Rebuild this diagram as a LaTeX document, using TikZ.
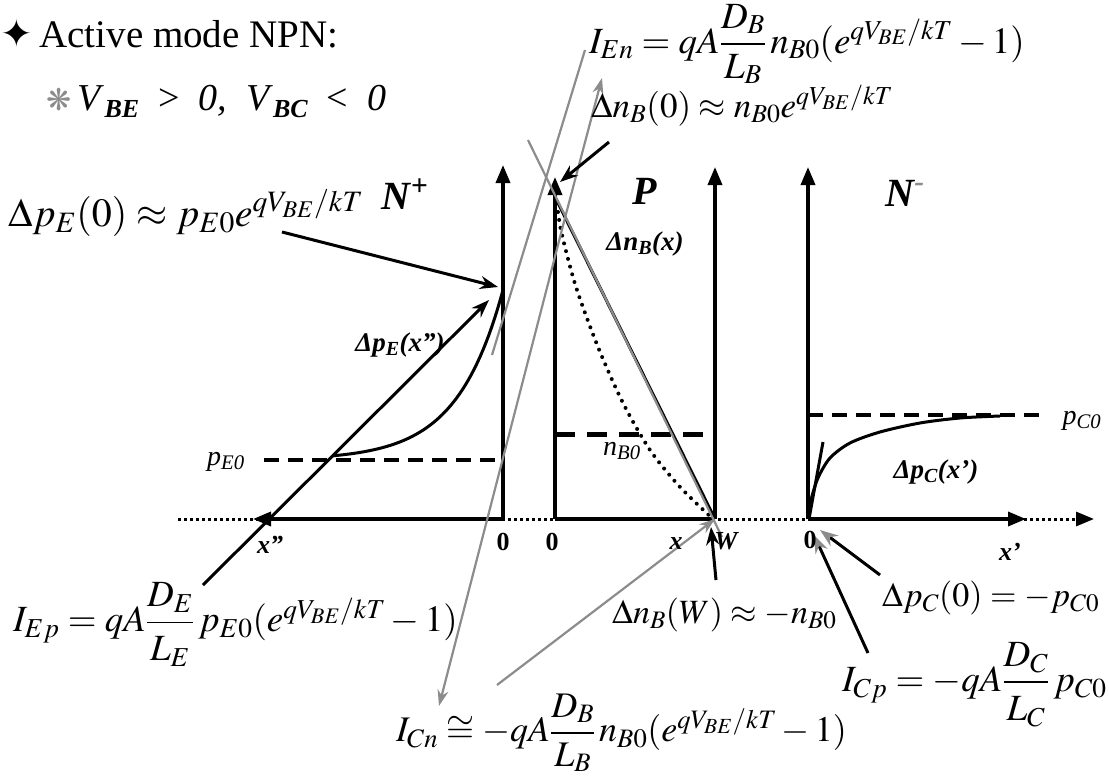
\documentclass[tikz,border=0pt]{standalone}
\usepackage{amsmath}
\usepackage{mathptmx}
\usepackage{fontspec}
\setmainfont{Liberation Serif}
\newfontfamily\symfont{DejaVu Sans}
\usetikzlibrary{arrows.meta}
\newcommand\fsz[1]{\fontsize{#1}{#1}\selectfont}
\newcommand\tallfrac[2]{\dfrac{\rule[-0.12em]{0pt}{0.8em}#1}{\rule{0pt}{0.9em}#2}}
\newcommand\sub[1]{\raisebox{-7pt}{\fsz{26}\bfseries\itshape #1}}

\begin{document}
\begin{tikzpicture}[x=1pt,y=-1pt,
    >={Triangle[length=18pt,width=14pt]},
    axis/.style={line width=3.5pt},
    guide/.style={line width=3pt, dash pattern=on 3pt off 3pt},
    lvl/.style={line width=4pt, dash pattern=on 15pt off 9pt},
    ptr/.style={line width=3pt, -{Stealth[length=18pt,width=13pt]}},
    gptr/.style={black!45, line width=2.2pt, -{Stealth[length=16pt,width=11pt]}},
    gline/.style={black!45, line width=2.2pt},
    reg/.style={font=\fsz{40}\bfseries\itshape},
    lbl/.style={font=\fsz{27}\bfseries\itshape},
    num/.style={font=\fsz{26}\bfseries},
    eq/.style={anchor=west, inner sep=0pt},
  ]
  \useasboundingbox (0,0) rectangle (1109,779);

  % axes of the three regions
  \coordinate (o1) at (503,519);
  \coordinate (o2) at (555,519);
  \coordinate (w) at (715,519);
  \coordinate (o3) at (808,519);
  \draw[guide,->] (178,519) -- (1094,519);
  \draw[axis,->] (o1) -- (253,519);
  \draw[axis] (o2) -- (w);
  \draw[axis,->] (o3) -- (1026,519);
  \draw[axis,->] (o1) -- (503,165);
  \draw[axis,->] (o2) -- (555,177);
  \draw[axis,->] (w) -- (715,167);
  \draw[axis,->] (o3) -- (808,167);

  % equilibrium levels
  \draw[lvl] (264,460) -- (501,460);
  \draw[lvl, line width=5pt, dash pattern=on 20pt off 12pt] (555,434) -- (715,434);
  \draw[lvl] (808,415) -- (1044,415);

  % excess carriers
  \draw[line width=3pt] plot[domain=0:170, samples=60] ({503-\x},{460-170*exp(-\x/46)});
  \coordinate (nbtop) at (555,197);
  \draw[line width=3pt] (nbtop) -- (w);
  \draw[line width=4pt, line cap=round, dash pattern=on 0pt off 8pt]
    plot[smooth] coordinates {(558,212) (562,235) (576,287) (598,347) (623,403) (650,450) (680,487) (713,519)};
  \draw[line width=3pt] plot[smooth] coordinates {(808,519) (811,500) (818,478) (830,458) (850,443) (880,432) (920,423) (960,418) (1000,416)};
  \draw[line width=3pt] (809,519) -- (823,442);

  % slopes (grey)
  \coordinate (gx) at (566,214);
  \coordinate (ientip) at (602,78);
  \coordinate (icntip) at (439,706);
  \coordinate (ga1) at (585,50);
  \coordinate (ga2) at (492,355);
  \coordinate (gc1) at (528,140);
  \coordinate (gc2) at (722,537);
  \coordinate (gw) at (497,685);
  \draw[gptr] (gx) -- (ientip);
  \draw[gptr] (gx) -- (icntip);
  \draw[gline] (ga1) -- (ga2);
  \draw[gline] (gc1) -- (gc2);
  \draw[gptr] (gw) -- (w);

  % pointers
  \coordinate (pe0a) at (282,232);  \coordinate (pe0b) at (498,287);
  \coordinate (iepa) at (203,585);  \coordinate (iepb) at (489,300);
  \coordinate (nb0a) at (609,142);  \coordinate (nb0b) at (560,182);
  \coordinate (nbwa) at (716,580);  \coordinate (nbwb) at (711,527);
  \coordinate (pc0a) at (880,575);  \coordinate (pc0b) at (820,530);
  \coordinate (icpa) at (868,653);  \coordinate (icpb) at (814,535);
  \draw[ptr] (pe0a) -- (pe0b);
  \draw[ptr] (iepa) -- (iepb);
  \draw[ptr] (nb0a) -- (nb0b);
  \draw[ptr] (nbwa) -- (nbwb);
  \draw[ptr, -{Stealth[length=18pt,width=13pt,color=black!45]}] (pc0a) -- (pc0b);
  \draw[ptr, -{Stealth[length=18pt,width=13pt,color=black!45]}] (icpa) -- (icpb);

  % headings
  \node[anchor=base west, inner sep=0pt, font=\fsz{39}] (title) at (0,47) {{\symfont ✦}\,Active mode NPN:};
  \node[anchor=base west, inner sep=0pt, font=\fsz{38}] (bias) at (46,110)
    {{\color{black!45}\symfont\fsz{30}❋}\,\textit{V}\sub{BE}\ \ >\ \ \textit{0,}\ \ \textit{V}\sub{BC}\ \ <\ \ \textit{0}};
  \node[reg] (nplus) at (405,194) {N\textsuperscript{+}};
  \node[reg] (pbase) at (645,191) {P};
  \node[reg] (nminus) at (905,193) {N\textsuperscript{\color{black!45}-}};

  % curve labels
  \node[lbl] (dpex) at (400,345) {Δp\textsubscript{E}(x”)};
  \node[lbl] (dnbx) at (645,244) {Δn\textsubscript{B}(x)};
  \node[lbl] (dpcx) at (936,472) {Δp\textsubscript{C}(x’)};
  \node[font=\fsz{28}\itshape] (pe0) at (226,462) {p\textsubscript{E0}};
  \node[font=\fsz{28}\itshape] (nb0) at (622,451) {n\textsubscript{B0}};
  \node[font=\fsz{28}\itshape] (pc0) at (1082,421) {p\textsubscript{C0}};

  % axis marks
  \node[num] (z1) at (503,542) {0};
  \node[num] (z2) at (552,542) {0};
  \node[num] (z3) at (810,540) {0};
  \node[num, font=\fsz{26}\bfseries\itshape] (xb) at (676,544) {x};
  \node[num, font=\fsz{26}\bfseries\itshape] (wb) at (726,541) {W};
  \node[num, font=\fsz{26}\bfseries\itshape] (xc) at (1010,552) {x’};
  \node[num, font=\fsz{26}\bfseries\itshape] (xe) at (270,545) {x”};

  % formulas
  \node[eq, font=\fsz{37}] (ien) at (589,44) {$I_{En} = qA\dfrac{D_B}{L_B}\,n_{B0}(e^{qV_{BE}/kT}-1)$};
  \node[eq, font=\fsz{35}] (dnb0) at (591,106) {$\Delta n_B(0)\approx n_{B0}e^{qV_{BE}/kT}$};
  \node[eq, font=\fsz{40}] (dpe0) at (8,213) {$\Delta p_E(0)\approx p_{E0}e^{qV_{BE}/kT}$};
  \node[eq, font=\fsz{37}] (iep) at (13,624) {$I_{Ep} = qA\tallfrac{D_E}{L_E}\,p_{E0}(e^{qV_{BE}/kT}-1)$};
  \node[eq, font=\fsz{36}] (icn) at (396,733) {$I_{Cn}\cong -qA\dfrac{D_B}{L_B}\,n_{B0}(e^{qV_{BE}/kT}-1)$};
  \node[eq, font=\fsz{37}] (icp) at (842,684) {$I_{Cp} = -qA\tallfrac{D_C}{L_C}\,p_{C0}$};
  \node[eq, font=\fsz{34}] (dnbw) at (612,615) {$\Delta n_B(W)\approx -n_{B0}$};
  \node[eq, font=\fsz{34}] (dpc0) at (882,598) {$\Delta p_C(0) = -p_{C0}$};
\end{tikzpicture}
\end{document}
